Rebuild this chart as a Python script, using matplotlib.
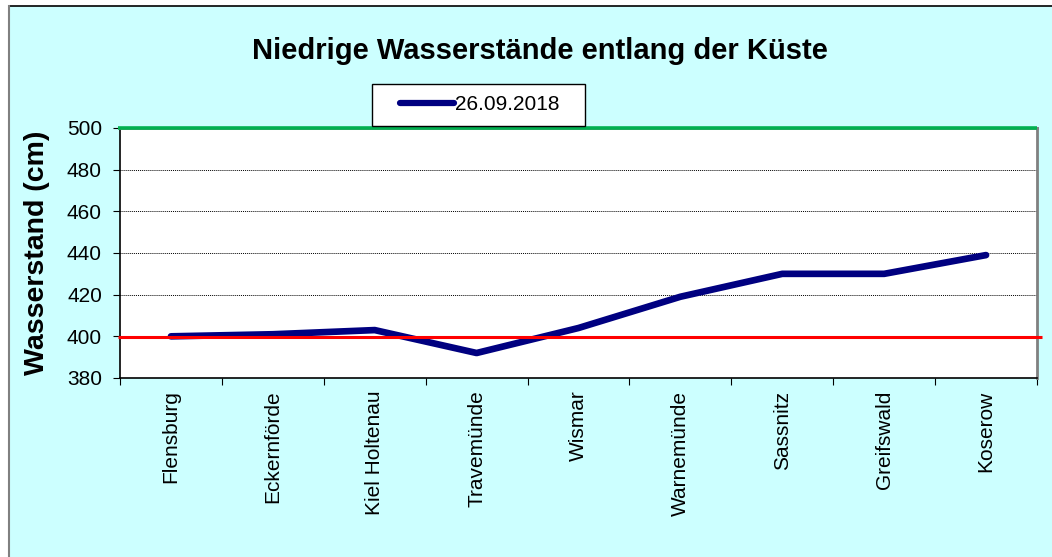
import matplotlib
matplotlib.use("Agg")
import matplotlib.pyplot as plt
from matplotlib.patches import Rectangle
from matplotlib.lines import Line2D

plt.rcParams['font.family'] = ['Liberation Sans', 'DejaVu Sans']

stations = ["Flensburg", "Eckernförde", "Kiel Holtenau", "Travemünde", "Wismar",
            "Warnemünde", "Sassnitz", "Greifswald", "Koserow"]
levels = [400, 401, 403, 392, 404, 419, 430, 430, 439]
series_label = "26.09.2018"
low_mark = 399.5
high_mark = 500
yticks = [380, 400, 420, 440, 460, 480, 500]

W, H = 1052, 557
fig = plt.figure(figsize=(W / 100, H / 100), dpi=100)
fig.patch.set_facecolor('white')
# outer chart area
fig.patches.append(Rectangle((9/W, 0), 1.0, 1 - 6/H, transform=fig.transFigure,
                             facecolor='#CCFFFF', edgecolor='none', zorder=-10))
fig.lines.append(Line2D([9/W, 1], [1 - 5.5/H, 1 - 5.5/H], transform=fig.transFigure,
                        color='black', lw=1.2, zorder=-5))
fig.lines.append(Line2D([8.5/W, 8.5/W], [0, 1 - 5.5/H], transform=fig.transFigure,
                        color='#808080', lw=1.5, zorder=-5))

ax = fig.add_axes([120/W, 1 - 378/H, (1037 - 120)/W, 250/H])
ax.set_zorder(2)
ax.set_facecolor('white')
x = list(range(len(stations)))
ax.set_xlim(-0.5, len(stations) - 0.5)
ax.set_ylim(380, 500)

ax.set_yticks(yticks)
ax.set_yticklabels([str(v) for v in yticks], fontsize=15)
ax.grid(axis='y', color='black', linestyle=(0, (1, 1)), linewidth=0.7)
ax.set_axisbelow(True)

ax.set_xticks([i - 0.5 for i in range(len(stations) + 1)])
ax.set_xticklabels([])
ax.set_xticks(x, minor=True)
ax.set_xticklabels(stations, minor=True, rotation=90, fontsize=15, va='top')
ax.tick_params(axis='x', which='minor', length=0, pad=9)
ax.tick_params(axis='x', which='major', length=5, direction='out', color='black')
ax.tick_params(axis='y', length=5, direction='out', color='black', pad=8)

for s in ['left', 'bottom']:
    ax.spines[s].set_color('black')
    ax.spines[s].set_linewidth(1.2)
ax.spines['right'].set_color('#808080')
ax.spines['right'].set_linewidth(2)
ax.spines['top'].set_color('#808080')
ax.spines['top'].set_linewidth(2)

ax.plot([-0.52, len(stations) - 0.5], [high_mark, high_mark], color='#00B050', lw=2.6,
        clip_on=False, zorder=5, solid_capstyle='butt')
ax.plot(x, levels, color='#000080', lw=4.8, solid_capstyle='round', solid_joinstyle='round',
        zorder=4, label=series_label)
ax.plot([-0.52, len(stations) - 0.45], [low_mark, low_mark], color='#FF0000', lw=2.2,
        clip_on=False, zorder=6, solid_capstyle='butt')

ax.set_ylabel("Wasserstand (cm)", fontsize=20.5, fontweight='bold', labelpad=12)
fig.text(540/W, 1 - 51/H, "Niedrige Wasserstände entlang der Küste", fontsize=21,
         fontweight='bold', ha='center', va='center')

# legend box
fig.patches.append(Rectangle((372/W, 1 - 126/H), (585 - 372)/W, 42/H, transform=fig.transFigure,
                             facecolor='white', edgecolor='black', lw=1.0, zorder=3))
handles = [Line2D([0], [0], color='#000080', lw=4.5, solid_capstyle='round')]
leg = fig.legend(handles, [series_label], loc='center left', bbox_to_anchor=(400/W, 1 - 105/H),
                 fontsize=15, frameon=False, handlelength=2.6, handletextpad=0.05,
                 borderpad=0, borderaxespad=0)
leg.set_zorder(4)

fig.savefig("out.png", dpi=100)
